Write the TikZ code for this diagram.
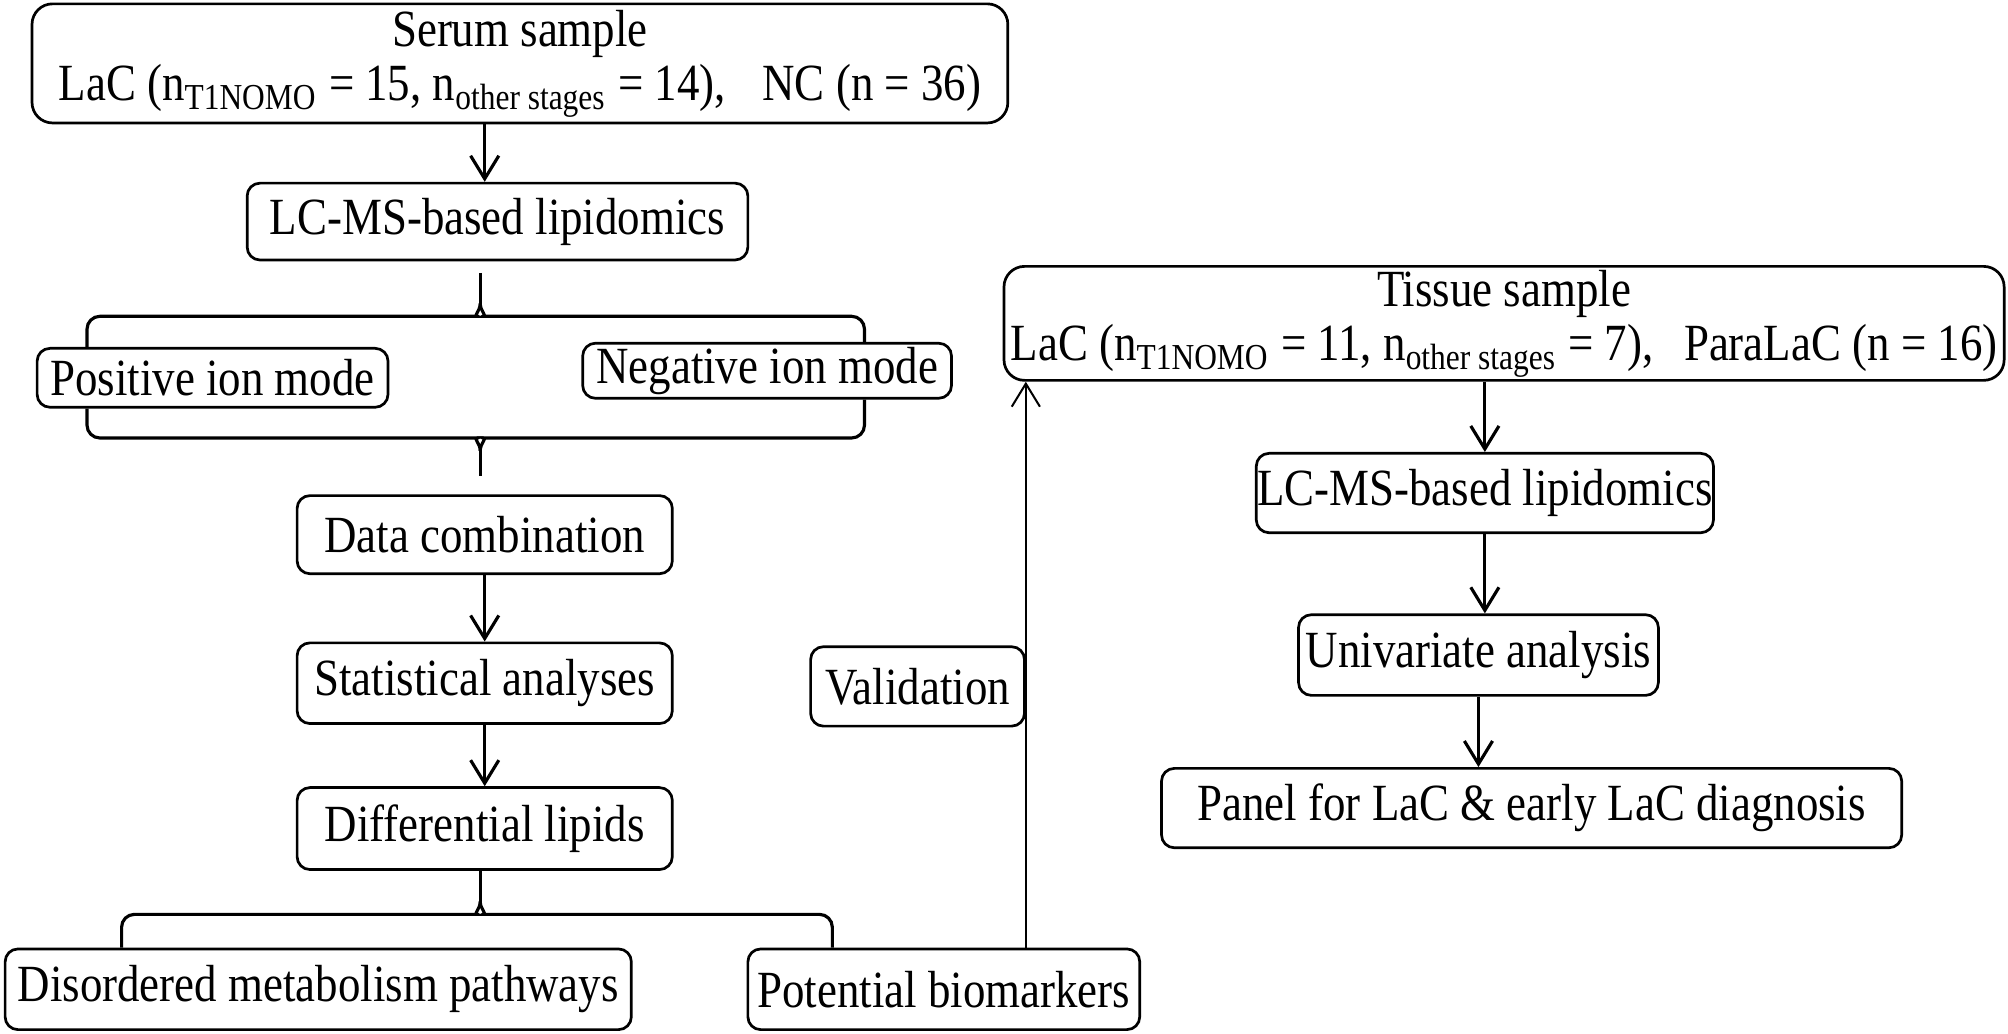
\documentclass[tikz,border=0pt]{standalone}
\usepackage{fontspec}
\setmainfont{Liberation Serif}[FakeStretch=0.86]
\usetikzlibrary{arrows.meta}

\begin{document}
\begin{tikzpicture}[x=0.1mm,y=-0.1mm,
    caja/.style={draw,line width=0.6pt,rounded corners=1mm,inner sep=0pt,align=center,
      font=\fontsize{11.6pt}{12.2pt}\selectfont},
    flecha/.style={line width=0.7pt,-{Straight Barb[length=1.8mm,width=2.2mm]}},
    llave/.style={line width=0.7pt,rounded corners=1mm}]
    \useasboundingbox (0,0) rectangle (1568,807);
    % Muestra de suero
    \node[caja,rounded corners=1.6mm,minimum width=76.2mm,minimum height=9.3mm] (serum) at (406,49.5)
        {Serum sample\\LaC (n\textsubscript{T1NOMO} = 15, n\textsubscript{other stages} = 14),\hspace{2mm} NC (n = 36)};
    \node[caja,minimum width=39.1mm,minimum height=6mm] (lcmsL) at (388.5,173) {LC-MS-based lipidomics};
    \node[caja,minimum width=27.4mm,minimum height=4.6mm] (pos) at (166,295) {Positive ion mode};
    \node[caja,minimum width=28.8mm,minimum height=4.3mm] (neg) at (599,289.5) {Negative ion mode};
    \node[caja,minimum width=29.3mm,minimum height=6.1mm] (comb) at (378.5,417.5) {Data combination};
    \node[caja,minimum width=29.3mm,minimum height=6.3mm] (stat) at (378.5,533.5) {Statistical analyses};
    \node[caja,minimum width=29.3mm,minimum height=6.4mm] (diff) at (378.5,647) {Differential lipids};
    \node[caja,minimum width=48.9mm,minimum height=6.3mm] (dis) at (248.5,772.5) {Disordered metabolism pathways};
    \node[caja,minimum width=30.6mm,minimum height=6.3mm] (pot) at (737,772.5) {Potential biomarkers};
    \node[caja,minimum width=16.7mm,minimum height=6.2mm] (valid) at (716.5,536) {Validation};
    % Muestra de tejido
    \node[caja,rounded corners=1.6mm,minimum width=78.1mm,minimum height=8.9mm] (tis) at (1174.5,252.5)
        {Tissue sample\\LaC (n\textsubscript{T1NOMO} = 11, n\textsubscript{other stages} = 7),\hspace{1.5mm} ParaLaC (n = 16)};
    \node[caja,minimum width=35.7mm,minimum height=6.2mm] (lcmsR) at (1159.5,385) {LC-MS-based lipidomics};
    \node[caja,minimum width=28.1mm,minimum height=6.3mm] (uni) at (1154.5,511.5) {Univariate analysis};
    \node[caja,minimum width=57.8mm,minimum height=6.2mm] (panel) at (1196,631) {Panel for LaC \& early LaC diagnosis};
    % Flechas columna izquierda
    \draw[flecha] (serum.south -| comb.north) -- (lcmsL.north -| comb.north);
    \draw[flecha] (comb.south) -- (stat.north);
    \draw[flecha] (stat.south) -- (diff.north);
    % Llaves
    \coordinate (c1) at (375,247);
    \coordinate (c2) at (375,342);
    \coordinate (c3) at (375,714);
    \draw[llave,shorten <=0.9mm] (lcmsL.south -| c1) -- ([yshift=1mm]c1);
    \draw[llave] ([xshift=4mm]pos.north west) |- ([xshift=-1.2mm]c1) to[out=0,in=-90] ([yshift=1mm]c1);
    \draw[llave] ([yshift=1mm]c1) to[out=-90,in=180] ([xshift=1.2mm]c1) -| ([xshift=-6.9mm]neg.north east);
    \draw[llave] ([xshift=4mm]pos.south west) |- ([xshift=-1.2mm]c2) to[out=0,in=90] ([yshift=-1mm]c2);
    \draw[llave] ([yshift=-1mm]c2) to[out=90,in=180] ([xshift=1.2mm]c2) -| ([xshift=-6.9mm]neg.south east);
    \draw[llave,shorten >=1.4mm] ([yshift=-1mm]c2) -- (comb.north -| c2);
    \draw[llave] (diff.south -| c3) -- ([yshift=1mm]c3);
    \draw[llave] ([xshift=9.2mm]dis.north west) |- ([xshift=-1.2mm]c3) to[out=0,in=-90] ([yshift=1mm]c3);
    \draw[llave] ([yshift=1mm]c3) to[out=-90,in=180] ([xshift=1.2mm]c3) -| ([xshift=6.7mm]pot.north west);
    % Validacion
    \draw[flecha,line width=0.45pt] (pot.north -| valid.east) -- (tis.south -| valid.east);
    % Flechas columna derecha
    \draw[flecha] (lcmsR.north |- tis.south) -- (lcmsR.north);
    \draw[flecha] (lcmsR.south) -- (lcmsR.south |- uni.north);
    \draw[flecha] (uni.south) -- (uni.south |- panel.north);
\end{tikzpicture}
\end{document}
